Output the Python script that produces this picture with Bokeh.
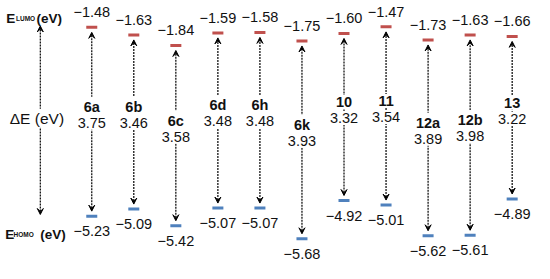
from bokeh.plotting import figure
from bokeh.models import ColumnDataSource, Range1d, Arrow, VeeHead
from bokeh.core.properties import value
from bokeh.embed import file_html
from bokeh.resources import INLINE

# ---- data ----
compounds = ["6a", "6b", "6c", "6d", "6h", "6k", "10", "11", "12a", "12b", "13"]
lumo = [-1.48, -1.63, -1.84, -1.59, -1.58, -1.75, -1.60, -1.47, -1.73, -1.63, -1.66]
homo = [-5.23, -5.09, -5.42, -5.07, -5.07, -5.68, -4.92, -5.01, -5.62, -5.61, -4.89]
gap = [3.75, 3.46, 3.58, 3.48, 3.48, 3.93, 3.32, 3.54, 3.89, 3.98, 3.22]

# ---- layout constants (reference pixel frame 550x279 scaled into 534x263) ----
W, H = 534, 263
SX, SY = W / 550, H / 279
PXX = 43.3 * SX            # px per compound slot
PXY = 53.4 * SY            # px per eV
X0 = -94 * SX / PXX
X1 = X0 + W / PXX
Y1 = -1.48 + 28.5 * SY / PXY
Y0 = Y1 - H / PXY


def rx(ref_px):
    return X0 + ref_px * SX / PXX


def ry(ref_py):
    return Y1 - ref_py * SY / PXY


FONT = value("Liberation Sans")
TXT = "#111111"
RED = "#c0504d"
BLUE = "#4f81bd"
ARROW_GAP = 5 / PXY
FS = "14.5px"

xs = list(range(len(compounds)))
mids = [(a + b) / 2 for a, b in zip(lumo, homo)]


def fmt(v):
    return ("\u2212" if v < 0 else "") + f"{abs(v):.2f}"


src = ColumnDataSource(dict(
    x=xs, lumo=lumo, homo=homo, mid=mids, name=compounds,
    gap=[f"{g:.2f}" for g in gap],
    lumo_t=[fmt(v) for v in lumo], homo_t=[fmt(v) for v in homo],
    a_top=[v - ARROW_GAP for v in lumo], a_bot=[v + ARROW_GAP for v in homo],
))

p = figure(width=W, height=H, x_range=Range1d(X0, X1), y_range=Range1d(Y0, Y1),
           output_backend="svg", toolbar_location=None, min_border=0,
           x_axis_type=None, y_axis_type=None)
p.grid.visible = False
p.outline_line_color = None
p.background_fill_color = "white"


def head():
    return VeeHead(size=6, fill_color="black", line_color="black", line_width=1)


arr = Arrow(x_start="x", y_start="a_bot", x_end="x", y_end="a_top", source=src,
            start=head(), end=head(), line_color="black", line_width=1.2,
            line_dash="2 1", level="underlay")
p.add_layout(arr)

# left axis arrow
lx = rx(41)
left_arrow = Arrow(x_start=lx, y_start=ry(227), x_end=lx, y_end=ry(27),
                   start=head(), end=head(), line_color="black", line_width=1.2,
                   line_dash="2 1", level="underlay")
p.add_layout(left_arrow)

# energy levels
p.rect(x="x", y="lumo", width=11, height=3, width_units="screen", height_units="screen",
       source=src, fill_color=RED, line_color=None)
p.rect(x="x", y="homo", width=11, height=3, width_units="screen", height_units="screen",
       source=src, fill_color=BLUE, line_color=None)

# level values
p.text(x="x", y="lumo", text="lumo_t", source=src, text_font=FONT, text_font_size=FS,
       text_color=TXT, text_align="center", text_baseline="middle", y_offset=-15)
p.text(x="x", y="homo", text="homo_t", source=src, text_font=FONT, text_font_size=FS,
       text_color=TXT, text_align="center", text_baseline="middle", y_offset=15)

# compound names and gaps
p.text(x="x", y="mid", text="name", source=src, text_font=FONT, text_font_size=FS,
       text_font_style="bold", text_color=TXT, text_align="center", text_baseline="middle",
       y_offset=-15, background_fill_color="white", padding=2)
p.text(x="x", y="mid", text="gap", source=src, text_font=FONT, text_font_size=FS,
       text_color=TXT, text_align="center", text_baseline="middle",
       y_offset=1, background_fill_color="white", padding=2)

# left labels: (ref x of E, sub offset, (eV) offset, ref baseline y, subscript)
for ex, so, eo, by, sub in [(6, 10, 31, 19, "LUMO"), (5, 8.5, 36, 248, "HOMO")]:
    xb, yb = rx(ex), ry(by)
    p.text(x=[xb], y=[yb], text=["E"], text_font=FONT, text_font_size="13.5px",
           text_font_style="bold", text_color=TXT, text_align="left",
           text_baseline="alphabetic")
    p.text(x=[xb], y=[yb], text=[sub], text_font=FONT, text_font_size="6.5px",
           text_font_style="bold", text_color=TXT, text_align="left",
           text_baseline="alphabetic", x_offset=so * SX, y_offset=0.5)
    p.text(x=[xb], y=[yb], text=["(eV)"], text_font=FONT, text_font_size="13.5px",
           text_font_style="bold", text_color=TXT, text_align="left",
           text_baseline="alphabetic", x_offset=eo * SX)

p.text(x=[rx(37.5)], y=[ry(125)], text=["\u0394E (eV)"], text_font=FONT,
       text_font_size="15.5px", text_color=TXT, text_align="center", text_baseline="middle",
       background_fill_color="white", padding=1)

open("out.html", "w").write(file_html(p, INLINE))
